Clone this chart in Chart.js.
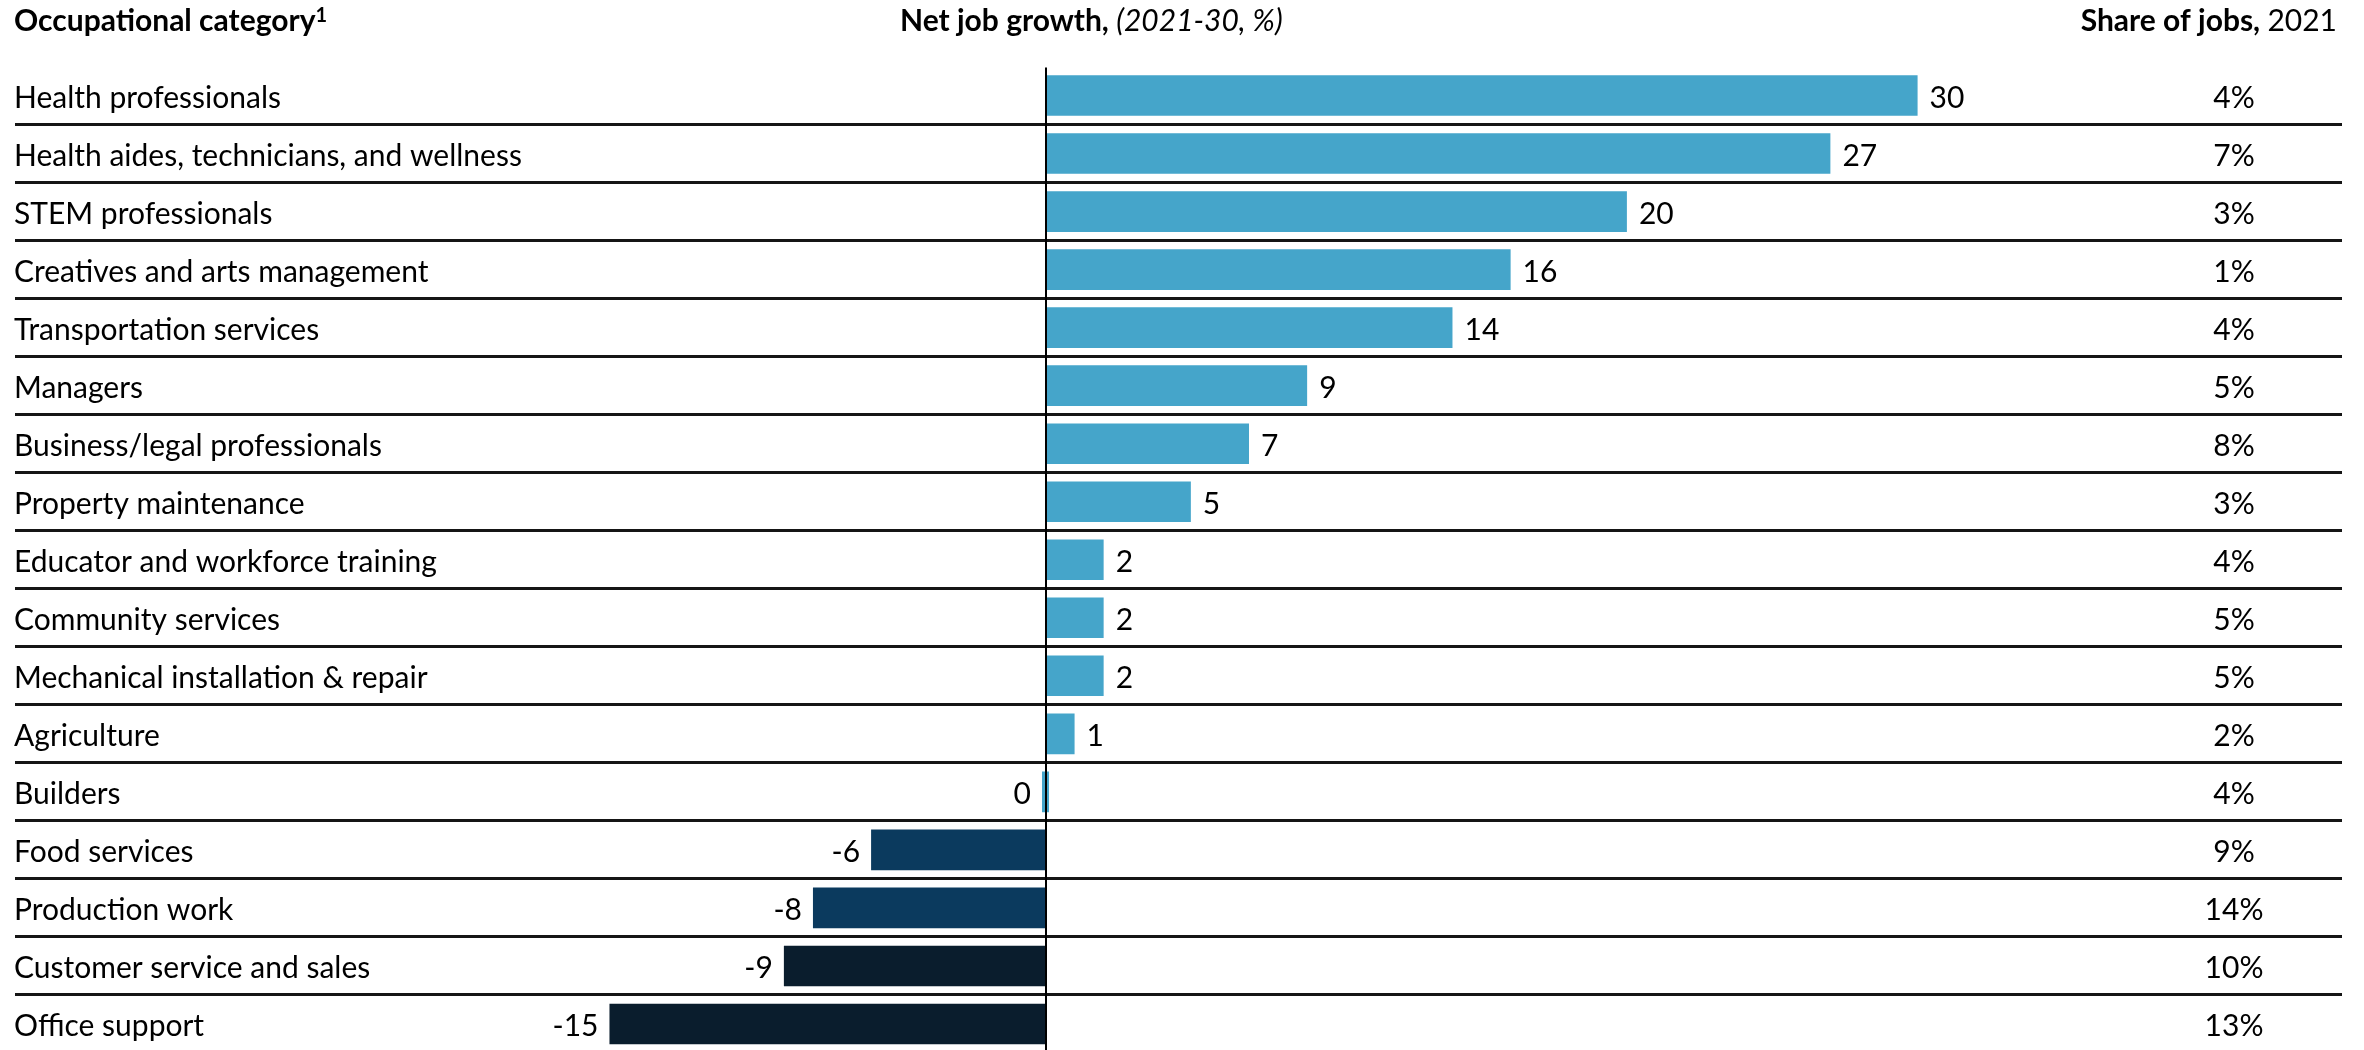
<!DOCTYPE html>
<html>
<head>
<meta charset="utf-8">
<script src="https://cdn.jsdelivr.net/npm/chart.js@4.4.1/dist/chart.umd.min.js"></script>
<style>
    html, body { margin: 0; padding: 0; background: #fff; overflow: hidden; }
    #wrap { width: 2364px; height: 1050px; overflow: hidden; }
</style>
</head>
<body>
<div id="wrap"><canvas id="chart" width="2364" height="1070"></canvas></div>
<script>
// Occupational categories, net job growth 2021-30 (%) and share of jobs in 2021 (%)
const categories = [
    'Health professionals',
    'Health aides, technicians, and wellness',
    'STEM professionals',
    'Creatives and arts management',
    'Transportation services',
    'Managers',
    'Business/legal professionals',
    'Property maintenance',
    'Educator and workforce training',
    'Community services',
    'Mechanical installation & repair',
    'Agriculture',
    'Builders',
    'Food services',
    'Production work',
    'Customer service and sales',
    'Office support'
];
const growth = [30, 27, 20, 16, 14, 9, 7, 5, 2, 2, 2, 1, 0, -6, -8, -9, -15];
const shareOfJobs = [4, 7, 3, 1, 4, 5, 8, 3, 4, 5, 5, 2, 4, 9, 14, 10, 13];

// Bar fills, one per row
const LIGHT = '#45a5ca';
const DARK = '#0b3a5e';
const NAVY = '#0a1d2d';
const barColors = [
    LIGHT, LIGHT, LIGHT, LIGHT, LIGHT, LIGHT, LIGHT, LIGHT, LIGHT,
    LIGHT, LIGHT, LIGHT, LIGHT, DARK, DARK, NAVY, NAVY
];

const FONT = 'Lato';
const FONT_SIZE = 30;
const LABEL_X = 14;
const SHARE_X = 2234;
const RIGHT_EDGE = 2337;

// Draws a run of text pieces with different styles, left to right
function drawRuns(ctx, runs, x, y, align) {
    let total = 0;
    runs.forEach(r => {
        ctx.font = r.font;
        total += ctx.measureText(r.text).width;
    });
    let cx = align === 'right' ? x - total : align === 'center' ? x - total / 2 : x;
    ctx.textAlign = 'left';
    runs.forEach(r => {
        ctx.font = r.font;
        ctx.fillText(r.text, cx, y + (r.dy || 0));
        cx += ctx.measureText(r.text).width;
    });
}

const tableText = {
    id: 'tableText',
    afterDatasetsDraw(chart) {
        const { ctx, chartArea, scales: { x, y } } = chart;
        const bars = chart.getDatasetMeta(0).data;
        ctx.save();

        // zero line on top of the bars
        const zx = Math.round(x.getPixelForValue(0));
        ctx.strokeStyle = '#000';
        ctx.lineWidth = 2;
        ctx.beginPath();
        ctx.moveTo(zx, chartArea.top + 1);
        ctx.lineTo(zx, chartArea.bottom);
        ctx.stroke();

        ctx.fillStyle = '#000';
        ctx.textBaseline = 'alphabetic';
        ctx.font = `${FONT_SIZE}px ${FONT}`;

        categories.forEach((name, i) => {
            const yy = y.getPixelForValue(i) + 12;
            ctx.textAlign = 'left';
            ctx.fillText(name, LABEL_X, yy);

            const v = growth[i];
            const bar = bars[i];
            if (v > 0) {
                ctx.textAlign = 'left';
                ctx.fillText(String(v), Math.max(bar.x, bar.base) + 12, yy);
            } else {
                ctx.textAlign = 'right';
                ctx.fillText(String(v), Math.min(bar.x, bar.base) - 11, yy);
            }

            ctx.textAlign = 'center';
            ctx.fillText(shareOfJobs[i] + '%', SHARE_X, yy);
        });

        // column headers
        const hy = 31;
        const bold = `bold ${FONT_SIZE}px ${FONT}`;
        drawRuns(ctx, [
            { text: 'Occupational category', font: bold },
            { text: '1', font: `bold ${Math.round(FONT_SIZE * 0.65)}px ${FONT}`, dy: -9 }
        ], LABEL_X, hy, 'left');
        drawRuns(ctx, [
            { text: 'Net job growth, ', font: bold },
            { text: '(2021-30, %)', font: `italic ${FONT_SIZE}px ${FONT}` }
        ], 900, hy, 'left');
        drawRuns(ctx, [
            { text: 'Share of jobs, ', font: bold },
            { text: '2021', font: `${FONT_SIZE}px ${FONT}` }
        ], RIGHT_EDGE, hy, 'right');

        ctx.restore();
    }
};

new Chart(document.getElementById('chart'), {
    type: 'bar',
    data: {
        labels: categories,
        datasets: [{
            data: growth,
            backgroundColor: barColors,
            borderWidth: 0,
            barPercentage: 0.7,
            categoryPercentage: 1,
            minBarLength: 7
        }]
    },
    options: {
        indexAxis: 'y',
        responsive: false,
        animation: false,
        events: [],
        layout: { padding: { top: 66.5, bottom: 9, left: 15, right: 22 } },
        plugins: {
            legend: { display: false },
            tooltip: { enabled: false }
        },
        scales: {
            x: {
                min: -35.45,
                max: 44.6,
                ticks: { display: false },
                border: { display: false },
                grid: { display: false }
            },
            y: {
                ticks: { display: false },
                border: { display: false },
                grid: {
                    offset: true,
                    drawTicks: false,
                    lineWidth: 3,
                    color: ctx => ctx.index === 0 ? 'rgba(0,0,0,0)' : '#151515'
                }
            }
        }
    },
    plugins: [tableText]
});
</script>
</body>
</html>
